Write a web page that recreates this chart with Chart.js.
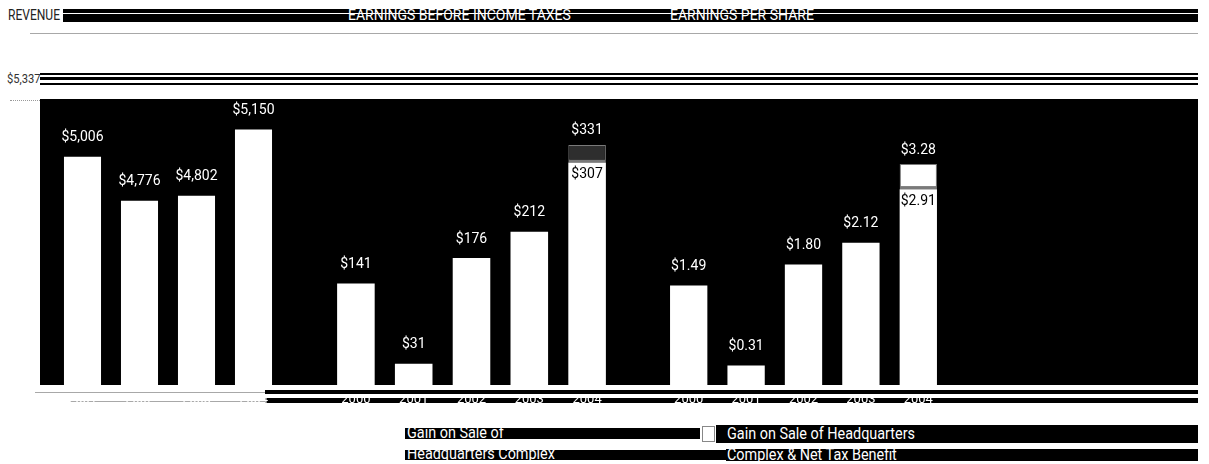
<!DOCTYPE html>
<html>
<head>
<meta charset="utf-8">
<script src="https://cdn.jsdelivr.net/npm/chart.js@4/dist/chart.umd.min.js"></script>
<style>
  body { margin: 0; background: #fff; width: 1209px; height: 464px; position: relative; overflow: hidden;
         font-family: Roboto, "Liberation Sans", sans-serif; }
  .abs { position: absolute; white-space: nowrap; }
  .blk { position: absolute; background: #000; }
  .gry { position: absolute; background: #a8a8a8; }
  .ttl { position: absolute; color: #fff; font-size: 14px; line-height: 14px; white-space: nowrap;
         transform-origin: left top; }
  canvas { position: absolute; }
</style>
</head>
<body>
<!-- header stripes -->
<div class="blk" style="left:63px;top:9px;width:1135px;height:13px;"></div>
<div class="abs" style="left:63px;top:13px;width:1135px;height:1px;background:#fff;"></div>
<div class="ttl" style="left:8px;top:8px;color:#222;transform:scaleX(0.86);">REVENUE</div>
<div class="ttl" style="left:348px;top:8px;">EARNINGS BEFORE INCOME TAXES</div>
<div class="ttl" style="left:670px;top:8px;">EARNINGS PER SHARE</div>
<div class="gry" style="left:30px;top:33px;width:1168px;height:1px;"></div>

<div class="blk" style="left:40px;top:73px;width:1158px;height:2px;"></div>
<div class="blk" style="left:40px;top:77px;width:1158px;height:3px;"></div>
<div class="blk" style="left:40px;top:83px;width:1158px;height:2px;"></div>
<div class="ttl" style="left:7px;top:72px;font-size:13px;line-height:13px;color:#333;transform:scaleX(0.86);">$5,337</div>
<div class="abs" style="left:10px;top:100px;width:30px;border-top:1px dotted #999;"></div>

<!-- plot background -->
<div class="blk" style="left:40px;top:99px;width:1158px;height:286px;"></div>

<!-- axis stripes -->
<div class="gry" style="left:35px;top:392px;width:230px;height:1px;"></div>
<div class="gry" style="left:70px;top:401px;width:195px;height:1px;"></div>
<div class="blk" style="left:265px;top:390px;width:933px;height:4px;"></div>
<div class="blk" style="left:265px;top:398px;width:933px;height:5px;"></div>

<canvas id="revenueChart" width="228" height="315" style="left:54px;top:99px;"></canvas>
<canvas id="ebtChart" width="289" height="315" style="left:327px;top:99px;"></canvas>
<canvas id="epsChart" width="287" height="315" style="left:660px;top:99px;"></canvas>

<!-- legend -->
<div class="blk" style="left:405px;top:428px;width:295px;height:11px;"></div>
<div class="ttl" style="left:407px;top:425px;font-size:16px;line-height:16px;transform:scaleX(0.9);">Gain on Sale of</div>
<div class="blk" style="left:405px;top:450px;width:321px;height:10px;"></div>
<div class="ttl" style="left:407px;top:446px;font-size:16px;line-height:16px;transform:scaleX(0.9);">Headquarters Complex</div>

<div class="abs" style="left:702px;top:426px;width:11px;height:14px;background:#fff;border:1px solid #888;"></div>
<div class="blk" style="left:716px;top:425px;width:482px;height:18px;"></div>
<div class="ttl" style="left:727px;top:426px;font-size:16px;line-height:16px;transform:scaleX(0.9);">Gain on Sale of Headquarters</div>
<div class="blk" style="left:726px;top:449px;width:472px;height:12px;"></div>
<div class="ttl" style="left:727px;top:447px;font-size:16px;line-height:16px;transform:scaleX(0.9);">Complex &amp; Net Tax Benefit</div>

<script>
const FONT = 'Roboto, "Liberation Sans", sans-serif';

const revenueYears = ['2001', '2002', '2003', '2004'];
const revenueValues = [5006, 4776, 4802, 5150];

const ebtYears = ['2000', '2001', '2002', '2003', '2004'];
const ebtValues = [141, 31, 176, 212, 307];
const ebtGain = [0, 0, 0, 0, 24];

const epsYears = ['2000', '2001', '2002', '2003', '2004'];
const epsValues = [1.49, 0.31, 1.80, 2.12, 2.91];
const epsGain = [0, 0, 0, 0, 0.37];

const fmtRevenue = v => '$' + v.toLocaleString('en-US');
const fmtEbt = v => '$' + Math.round(v);
const fmtEps = v => '$' + v.toFixed(2);

// value labels above bars; split bars get the base value inside, total on top
const valueLabels = {
    id: 'valueLabels',
    afterDatasetsDraw(chart, args, opts) {
        const ctx = chart.ctx;
        const base = chart.getDatasetMeta(0);
        const gainMeta = chart.data.datasets.length > 1 ? chart.getDatasetMeta(1) : null;
        const baseData = chart.data.datasets[0].data;
        const gainData = gainMeta ? chart.data.datasets[1].data : [];
        ctx.save();
        ctx.font = '14px ' + FONT;
        ctx.textAlign = 'center';
        ctx.textBaseline = 'middle';
        base.data.forEach((bar, i) => {
            const g = gainData[i] || 0;
            if (g > 0) {
                const gb = gainMeta.data[i];
                ctx.fillStyle = '#fff';
                ctx.fillText(opts.fmt(baseData[i] + g), bar.x, gb.y - 14);
                ctx.fillStyle = '#000';
                ctx.fillText(opts.fmt(baseData[i]), bar.x, bar.y + 12);
            } else {
                ctx.fillStyle = '#fff';
                ctx.fillText(opts.fmt(baseData[i]), bar.x, bar.y - 19);
            }
        });
        ctx.restore();
    }
};

function makeChart(id, years, values, gain, min, max, fmt, gainColor) {
    const datasets = [{
        label: 'Reported',
        data: values,
        backgroundColor: '#fff',
        barPercentage: 0.65,
        categoryPercentage: 1
    }];
    if (gain) {
        datasets.push({
            label: 'Gain on Sale of Headquarters Complex & Net Tax Benefit',
            data: gain,
            backgroundColor: gainColor,
            borderColor: '#7a7a7a',
            borderWidth: { top: 1, left: 1, right: 1, bottom: 3 },
            borderSkipped: false,
            barPercentage: 0.65,
            categoryPercentage: 1
        });
    }
    return new Chart(document.getElementById(id), {
        type: 'bar',
        data: { labels: years, datasets: datasets },
        options: {
            responsive: false,
            animation: false,
            devicePixelRatio: 1,
            layout: { padding: { bottom: 0 } },
            plugins: {
                legend: { display: false },
                tooltip: { enabled: false },
                valueLabels: { fmt: fmt }
            },
            scales: {
                x: {
                    stacked: true,
                    grid: { display: false, drawTicks: false },
                    border: { display: false },
                    ticks: { color: '#fff', padding: 6, font: { family: FONT, size: 13 } }
                },
                y: { stacked: true, display: false, min: min, max: max }
            }
        },
        plugins: [valueLabels]
    });
}

makeChart('revenueChart', revenueYears, revenueValues, null, 3800, 5310, fmtRevenue);
makeChart('ebtChart', ebtYears, ebtValues, ebtGain, 0, 394, fmtEbt, '#2e2e2e');
makeChart('epsChart', epsYears, epsValues, epsGain, 0, 4.24, fmtEps, '#fff');
</script>
</body>
</html>
